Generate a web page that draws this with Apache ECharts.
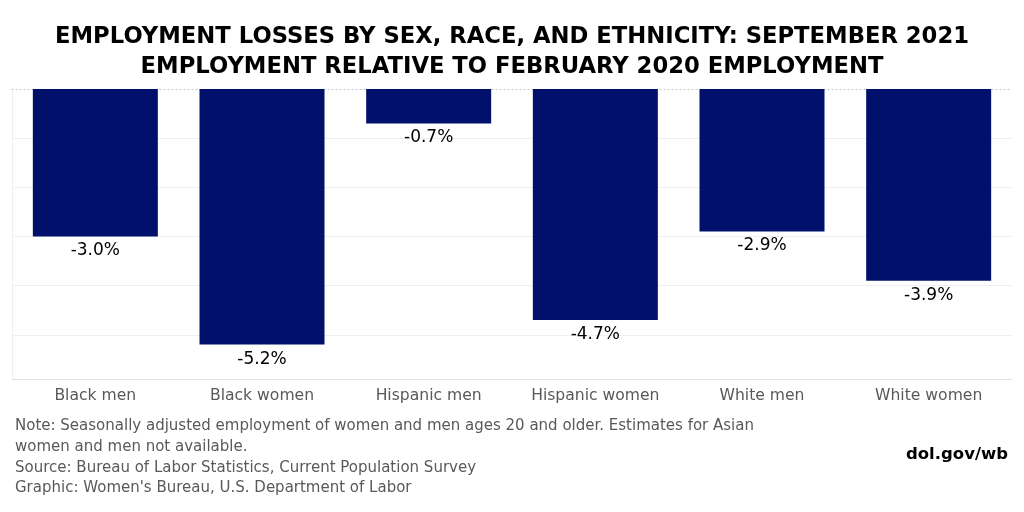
<!DOCTYPE html>
<html><head><meta charset="utf-8">
<script src="https://cdn.jsdelivr.net/npm/echarts@6/dist/echarts.min.js"></script>
<style>html,body{margin:0;padding:0;background:#fff}#c{width:1024px;height:512px}</style>
</head><body><div id="c"></div>
<script>
const categories = ["Black men","Black women","Hispanic men","Hispanic women","White men","White women"];
const values = [-3.0,-5.2,-0.7,-4.7,-2.9,-3.9];
const titleLines = ["EMPLOYMENT LOSSES BY SEX, RACE, AND ETHNICITY: SEPTEMBER 2021","EMPLOYMENT RELATIVE TO FEBRUARY 2020 EMPLOYMENT"];
const noteLines = ["Note: Seasonally adjusted employment of women and men ages 20 and older. Estimates for Asian","women and men not available.","Source: Bureau of Labor Statistics, Current Population Survey","Graphic: Women's Bureau, U.S. Department of Labor"];
const credit = "dol.gov/wb";

const chart = echarts.init(document.getElementById('c'));
const F = "DejaVu Sans, Verdana, sans-serif";
chart.setOption({
  animation:false,
  title:{text:titleLines.join("\n"),left:'center',top:17,textStyle:{fontFamily:F,fontWeight:'bold',fontSize:22.7,color:'#000',lineHeight:30}},
  grid:{left:12,right:12,top:89,bottom:133},
  xAxis:[{type:'category',data:categories,position:'bottom',
    axisLine:{show:true,onZero:false,lineStyle:{color:'#e3e3e3'}},
    axisTick:{show:false},
    axisLabel:{interval:0,fontFamily:F,fontSize:15.6,color:'#595959',margin:9}},
    {type:'category',data:categories,position:'top',axisLabel:{show:false},axisTick:{show:false},
     axisLine:{show:true,onZero:false,lineStyle:{color:'#c4c4c4',type:[1,3],width:1}}}],
  yAxis:[
    {type:'value',min:-5.9,max:0,axisLabel:{show:false},splitLine:{show:false},axisLine:{show:true,onZero:false,lineStyle:{color:'#eeeeee'}},axisTick:{show:false}},
    {type:'value',min:0,max:5.9,interval:1,inverse:true,position:'left',axisLabel:{show:false},axisLine:{show:false},axisTick:{show:false},
     splitLine:{show:true,lineStyle:{color:['rgba(0,0,0,0)','#efefef','#efefef','#efefef','#efefef','#efefef','rgba(0,0,0,0)'],width:1}}}
  ],
  series:[{type:'bar',data:values,barWidth:'75%',yAxisIndex:0,xAxisIndex:0,
    itemStyle:{color:'#00106b'},
    label:{show:true,position:'bottom',distance:6,fontFamily:F,fontSize:17,color:'#000',formatter:p=>p.value.toFixed(1)+'%'}
  }],
  graphic:[
    {type:'text',left:15,top:416,style:{text:noteLines.join("\n"),fontFamily:F,fontSize:15,lineHeight:20.7,fill:'#595959'}},
    {type:'text',right:16,top:446,style:{text:credit,fontFamily:F,fontSize:16.5,fontWeight:'bold',fill:'#000'}}
  ]
});
</script></body></html>
